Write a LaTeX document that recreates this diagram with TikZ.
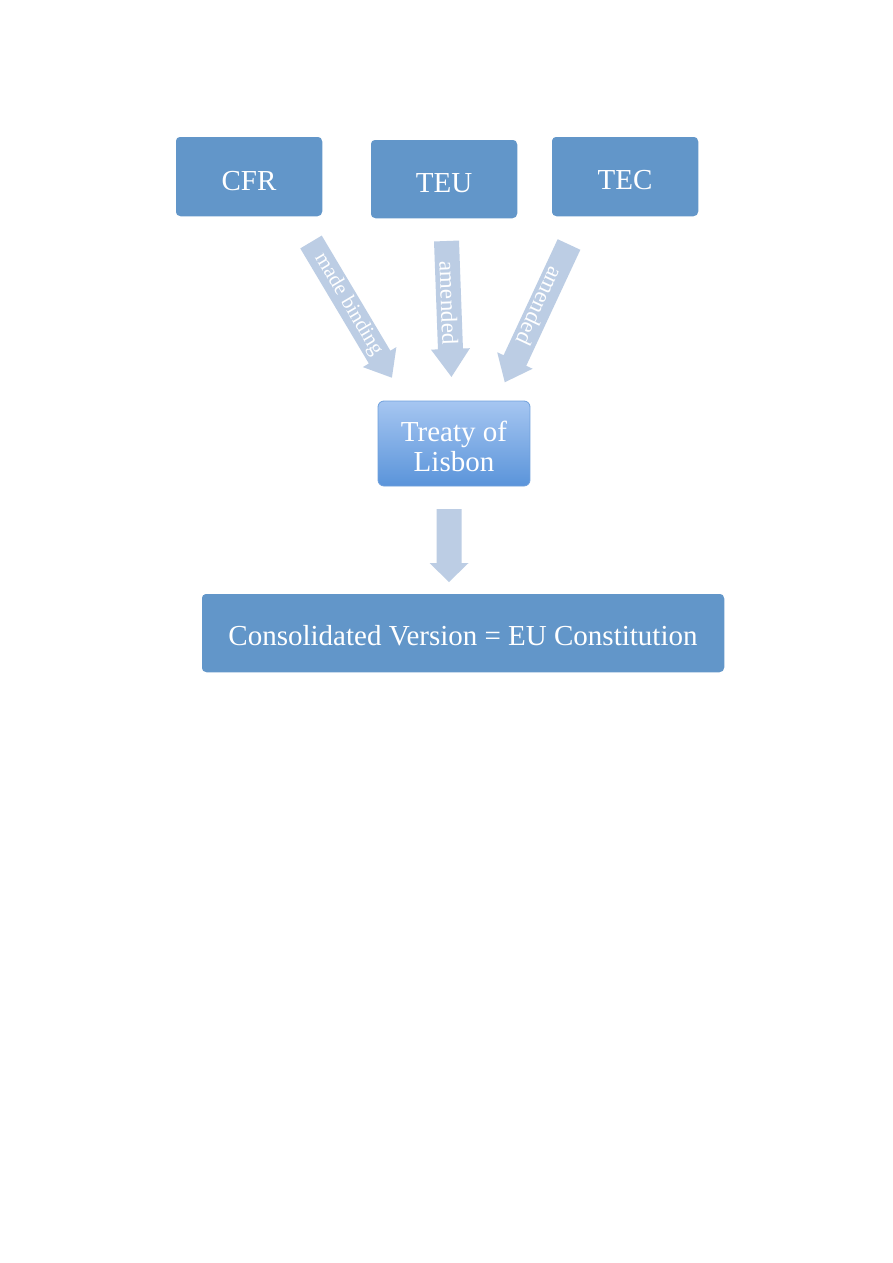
\documentclass[tikz,border=0pt]{standalone}
\usepackage{fontspec}
\setmainfont{Liberation Serif}
\definecolor{boxblue}{HTML}{6296C9}
\definecolor{arrowblue}{HTML}{BCCDE4}
\definecolor{gradtop}{HTML}{A6C6F1}
\definecolor{gradbot}{HTML}{5A94DA}
\definecolor{gradborder}{HTML}{6FA0DC}
\tikzset{
  bluebox/.style={rectangle, rounded corners=5pt, fill=boxblue, draw=white, line width=1.5pt,
    text=white, font=\fontsize{29}{31}\selectfont, align=center, inner sep=0pt},
  gradbox/.style={rectangle, rounded corners=6pt, top color=gradtop, bottom color=gradbot,
    draw=gradborder, line width=0.8pt, text=white, font=\fontsize{29}{30}\selectfont,
    align=center, inner sep=0pt},
  arrowlabel/.style={text=white, inner sep=0pt},
}
\newcommand{\lowered}[2]{\raisebox{-#1}[\height][\depth]{#2}}
% #1 label node name, #2 start coordinate, #3 angle, #4 length, #5 head length, #6 text, #7 text offset
\newcommand{\blockarrow}[7]{%
  \begin{scope}[shift={(#2)}, rotate=#3]
    \fill[arrowblue] (0,-12.5) -- ({#4-#5},-12.5) -- ({#4-#5},-19.5) -- (#4,0)
      -- ({#4-#5},19.5) -- ({#4-#5},12.5) -- (0,12.5) -- cycle;
    \node[arrowlabel, rotate=#3] (#1) at ({(#4-#5)/2+#7},0) {#6};
  \end{scope}}
\begin{document}
\begin{tikzpicture}[x=1pt,y=-1pt]
\useasboundingbox (0,0) rectangle (893,1263);
\fill[white] (0,0) rectangle (893,1263);

\node[bluebox, minimum width=148pt, minimum height=81pt] (cfr) at (249,176.5) {\lowered{5pt}{CFR}};
\node[bluebox, minimum width=148pt, minimum height=80pt] (teu) at (444,179) {\lowered{4pt}{TEU}};
\node[bluebox, minimum width=148pt, minimum height=81pt] (tec) at (625,176.5) {\lowered{4pt}{TEC}};
\node[gradbox, minimum width=152pt, minimum height=85pt] (lisbon) at (454,443.5) {\lowered{3pt}{Treaty of}\\\lowered{3pt}{Lisbon}};
\node[bluebox, minimum width=524pt, minimum height=80pt] (cons) at (463,633) {\lowered{3pt}{Consolidated Version = EU Constitution}};

\coordinate (a1) at (311,242);
\coordinate (a2) at (446.5,241);
\coordinate (a3) at (569,244.5);
\coordinate (a4) at (449,509);

\blockarrow{l1}{a1}{-59.2}{158}{24}{\fontsize{21}{21}\selectfont made binding}{6}
\blockarrow{l2}{a2}{-87.9}{136}{28}{\fontsize{23}{23}\selectfont amended}{8}
\blockarrow{l3}{a3}{-115}{152}{24}{\fontsize{23}{23}\selectfont amended}{4}
\blockarrow{l4}{a4}{-90}{73}{19}{}{0}
\end{tikzpicture}
\end{document}
